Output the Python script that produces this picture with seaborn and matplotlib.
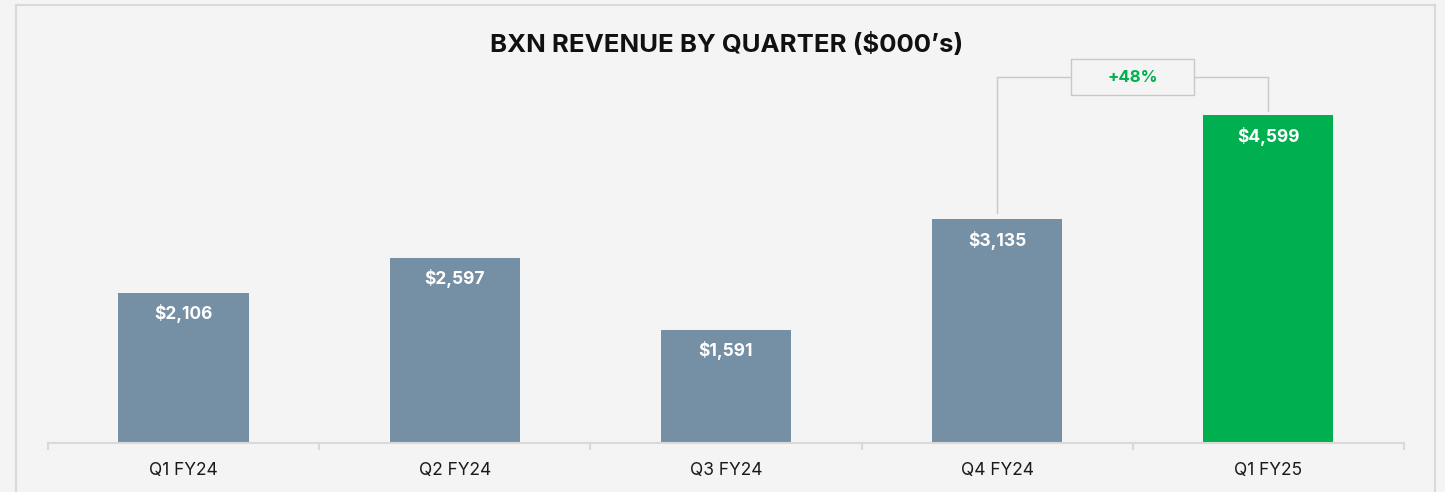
import matplotlib
matplotlib.use("Agg")
import matplotlib.pyplot as plt
from matplotlib.patches import Rectangle
import seaborn as sns
import pandas as pd

# %% Data
quarters = ["Q1 FY24", "Q2 FY24", "Q3 FY24", "Q4 FY24", "Q1 FY25"]
revenue = [2106, 2597, 1591, 3135, 4599]
value_labels = ["$2,106", "$2,597", "$1,591", "$3,135", "$4,599"]
growth_label = "+48%"

bar_colors = ["#7590A5", "#7590A5", "#7590A5", "#7590A5", "#00B050"]
bg = "#F4F4F4"
line_grey = "#D9D9D9"

df = pd.DataFrame({"quarter": quarters, "revenue": revenue})

# %% Plot
sns.set_theme(style="white")
plt.rcParams["font.family"] = ["Inter", "DejaVu Sans"]

fig = plt.figure(figsize=(14.45, 4.92), dpi=100, facecolor=bg)
ax = fig.add_axes([0.0332, 0.0996, 0.9384, 0.8118])
ax.set_facecolor(bg)

sns.barplot(data=df, x="quarter", y="revenue", hue="quarter", palette=bar_colors,
            width=0.48, saturation=1, legend=False, edgecolor="none", linewidth=0, ax=ax)

ax.set_xlim(-0.5, len(quarters) - 0.5)
ax.set_ylim(0, 5600)
ax.set_xlabel("")
ax.set_ylabel("")
ax.set_yticks([])
for side in ["top", "left", "right"]:
    ax.spines[side].set_visible(False)
ax.spines["bottom"].set_color(line_grey)
ax.spines["bottom"].set_linewidth(1.5)

ax.set_xticks(range(len(quarters)))
ax.set_xticklabels(quarters, fontsize=12.5, color="#1a1a1a")
ax.tick_params(axis="x", which="major", length=0, pad=14)
ax.set_xticks([i - 0.5 for i in range(len(quarters) + 1)], minor=True)
ax.tick_params(axis="x", which="minor", bottom=True, length=5, width=1.5, color=line_grey)

# value labels inside bars
for i, (v, lab) in enumerate(zip(revenue, value_labels)):
    ax.text(i, v - 295, lab, ha="center", va="center", color="white",
            fontsize=12.5, fontweight="bold")

# growth connector between last two bars
i0, i1 = len(quarters) - 2, len(quarters) - 1
y_line = max(revenue) + 530
ax.plot([i0, i0, i1, i1], [revenue[i0] + 90, y_line, y_line, max(revenue) + 56],
        color="#C8C8C8", lw=1.0, clip_on=False, zorder=1)
mid = (i0 + i1) / 2
ax.add_patch(Rectangle((mid - 0.227, y_line - 253), 0.454, 506, facecolor=bg,
                       edgecolor="#C8C8C8", lw=1.0, clip_on=False, zorder=2))
ax.text(mid, y_line, growth_label, ha="center", va="center", color="#00B050",
        fontsize=12, fontweight="bold", zorder=3)

# title and outer frame
fig.text(0.503, 0.9085, "BXN REVENUE BY QUARTER ($000\u2019s)", ha="center", va="center",
         fontsize=18.5, fontweight="bold", color="#111111")
fig.patches.append(Rectangle((0.0111, -0.1), 0.982, 1.0898, transform=fig.transFigure,
                             fill=False, edgecolor=line_grey, lw=1.5))

fig.savefig("out.png", dpi=100, facecolor=bg)
